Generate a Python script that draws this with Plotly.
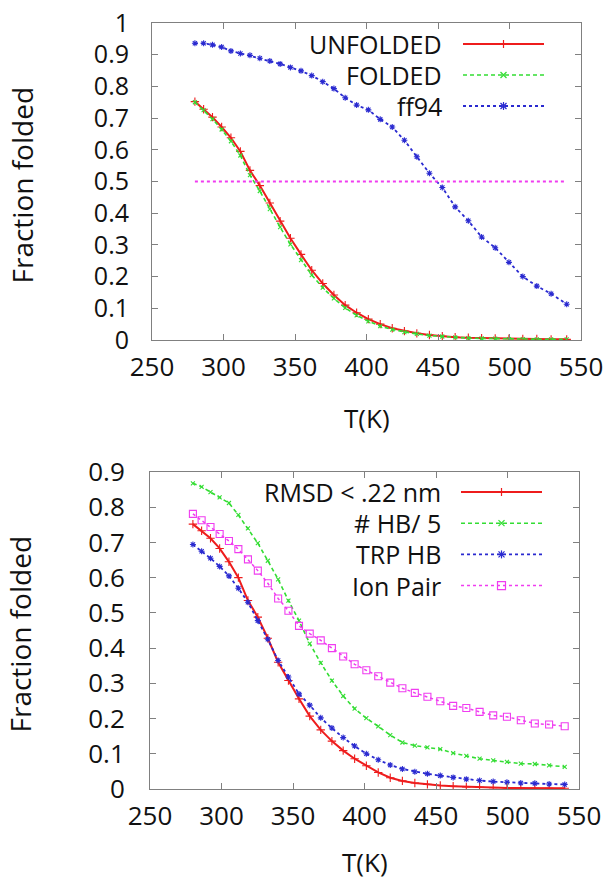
import plotly.graph_objects as go

# ---------------- data ----------------
T = [280.0, 286.1, 292.3, 298.7, 305.2, 311.8, 318.5, 325.4, 332.4, 339.6, 346.8,
     354.2, 361.7, 369.4, 377.2, 385.1, 393.1, 401.3, 409.6, 418.0, 426.5, 435.2,
     444.0, 453.0, 462.0, 471.2, 480.5, 490.0, 499.6, 509.3, 519.1, 529.1, 540.0]

# top panel
UNFOLDED = [0.752, 0.728, 0.703, 0.672, 0.638, 0.595, 0.535, 0.487, 0.432, 0.375, 0.321,
            0.270, 0.220, 0.178, 0.142, 0.110, 0.086, 0.066, 0.050, 0.037, 0.028, 0.021,
            0.016, 0.012, 0.009, 0.007, 0.006, 0.005, 0.004, 0.003, 0.003, 0.002, 0.002]
FOLDED = [0.750, 0.725, 0.697, 0.664, 0.627, 0.582, 0.520, 0.470, 0.413, 0.356, 0.302,
          0.252, 0.205, 0.165, 0.131, 0.101, 0.078, 0.059, 0.044, 0.033, 0.025, 0.019,
          0.014, 0.011, 0.008, 0.006, 0.005, 0.004, 0.003, 0.003, 0.002, 0.002, 0.002]
FF94 = [0.936, 0.936, 0.931, 0.924, 0.912, 0.904, 0.898, 0.889, 0.880, 0.871, 0.860,
        0.849, 0.834, 0.815, 0.793, 0.764, 0.741, 0.726, 0.696, 0.672, 0.630, 0.578,
        0.526, 0.481, 0.420, 0.376, 0.325, 0.291, 0.245, 0.200, 0.170, 0.146, 0.113]
THRESHOLD = 0.5

# bottom panel
RMSD = [0.752, 0.733, 0.712, 0.683, 0.645, 0.600, 0.535, 0.488, 0.428, 0.360, 0.308,
        0.256, 0.207, 0.168, 0.136, 0.109, 0.086, 0.066, 0.047, 0.032, 0.023, 0.017,
        0.013, 0.010, 0.008, 0.006, 0.005, 0.004, 0.003, 0.003, 0.002, 0.002, 0.002]
HB5 = [0.868, 0.858, 0.843, 0.828, 0.812, 0.778, 0.740, 0.698, 0.648, 0.595, 0.535,
       0.478, 0.413, 0.358, 0.308, 0.264, 0.228, 0.201, 0.178, 0.153, 0.132, 0.123,
       0.118, 0.113, 0.102, 0.094, 0.086, 0.081, 0.077, 0.072, 0.071, 0.067, 0.063]
TRP_HB = [0.694, 0.675, 0.655, 0.632, 0.605, 0.570, 0.530, 0.478, 0.425, 0.365, 0.318,
          0.270, 0.238, 0.202, 0.173, 0.146, 0.122, 0.100, 0.083, 0.068, 0.057, 0.049,
          0.043, 0.038, 0.033, 0.028, 0.024, 0.021, 0.019, 0.017, 0.016, 0.014, 0.013]
ION_PAIR = [0.781, 0.763, 0.744, 0.724, 0.704, 0.681, 0.652, 0.620, 0.584, 0.541, 0.506,
            0.463, 0.441, 0.422, 0.400, 0.376, 0.354, 0.337, 0.320, 0.302, 0.286, 0.273,
            0.262, 0.249, 0.236, 0.230, 0.219, 0.209, 0.205, 0.195, 0.186, 0.183, 0.178]

X_TICKS = [250, 300, 350, 400, 450, 500, 550]

# ---------------- styles ----------------
W, H = 610, 880
FONT = "Open Sans"
RED = "#ee1c1c"
GREEN = "#33dd33"
BLUE = "#2a2ad0"
MAGENTA = "#f03cf0"
GRAY = "#808080"
TXT = "#111111"

STY = {
    "red": dict(color=RED, dash="solid", width=2.0, symbol="cross-thin-open", size=6, mk="plus"),
    "green": dict(color=GREEN, dash="4px,3px", width=1.6, symbol="x-thin-open", size=4, mk="x"),
    "blue": dict(color=BLUE, dash="dot", width=1.8, symbol="asterisk-open", size=5, mk="star"),
    "mag": dict(color=MAGENTA, dash="dot", width=1.5, symbol="square-open", size=7, mk="square"),
}


def series(x, y, s, xa, ya):
    return go.Scatter(
        x=x, y=y, mode="lines+markers", xaxis=xa, yaxis=ya, showlegend=False,
        line=dict(color=s["color"], dash=s["dash"], width=s["width"]),
        marker=dict(symbol=s["symbol"], size=s["size"], color=s["color"],
                    line=dict(color=s["color"], width=1.1)),
    )


fig = go.Figure()
fig.add_trace(series(T, UNFOLDED, STY["red"], "x", "y"))
fig.add_trace(series(T, FOLDED, STY["green"], "x", "y"))
fig.add_trace(series(T, FF94, STY["blue"], "x", "y"))
fig.add_trace(go.Scatter(x=[T[0], T[-1]], y=[THRESHOLD, THRESHOLD], mode="lines",
                         xaxis="x", yaxis="y", showlegend=False,
                         line=dict(color=MAGENTA, dash="dot", width=1.8)))

fig.add_trace(series(T, RMSD, STY["red"], "x2", "y2"))
fig.add_trace(series(T, HB5, STY["green"], "x2", "y2"))
fig.add_trace(series(T, TRP_HB, STY["blue"], "x2", "y2"))
fig.add_trace(series(T, ION_PAIR, STY["mag"], "x2", "y2"))


def px(x, y):
    return x / W, 1 - y / H


# plot areas in pixels
TOP = dict(l=152, r=581, t=23, b=340)
BOT = dict(l=150, r=579, t=472, b=789)

axis_common = dict(
    showline=True, linecolor=GRAY, linewidth=1, mirror="ticks",
    ticks="inside", ticklen=6, tickcolor=GRAY, tickwidth=1,
    showgrid=False, zeroline=False, automargin=False,
)
TICKFONT = dict(family=FONT, size=26, color=TXT)
TICKFONT_TIGHT = dict(family=FONT, size=25, color=TXT)

fig.update_layout(
    template="none",
    width=W, height=H,
    margin=dict(l=0, r=0, t=0, b=0, pad=0, autoexpand=False),
    paper_bgcolor="white", plot_bgcolor="white",
    showlegend=False,
    xaxis=dict(domain=[TOP["l"] / W, TOP["r"] / W], range=[250, 550], tickfont=TICKFONT,
               tickvals=X_TICKS, anchor="y", ticklabelstandoff=4, **axis_common),
    yaxis=dict(domain=[1 - TOP["b"] / H, 1 - TOP["t"] / H], range=[0, 1], tickfont=TICKFONT_TIGHT,
               dtick=0.1, tick0=0, anchor="x", ticklabelstandoff=17, **axis_common),
    xaxis2=dict(domain=[BOT["l"] / W, BOT["r"] / W], range=[250, 550], tickfont=TICKFONT,
                tickvals=X_TICKS, anchor="y2", ticklabelstandoff=4, **axis_common),
    yaxis2=dict(domain=[1 - BOT["b"] / H, 1 - BOT["t"] / H], range=[0, 0.9], tickfont=TICKFONT,
                dtick=0.1, tick0=0, anchor="x2", ticklabelstandoff=19, **axis_common),
)

annotations = []
shapes = []

# axis titles
for panel, tx_y, ty_x in ((TOP, 418, 21), (BOT, 862, 19)):
    cx = (panel["l"] + panel["r"]) / 2
    x, y = px(cx, tx_y)
    annotations.append(dict(text="T(K)", x=x, y=y, xref="paper", yref="paper",
                            showarrow=False, xanchor="center", yanchor="middle",
                            font=dict(family=FONT, size=26, color=TXT)))
    cy = (panel["t"] + panel["b"]) / 2 + 4
    x, y = px(ty_x, cy)
    annotations.append(dict(text="Fraction folded", x=x, y=y, xref="paper", yref="paper",
                            showarrow=False, xanchor="center", yanchor="middle", textangle=-90,
                            font=dict(family=FONT, size=28, color=TXT)))


def line_shape(x0, y0, x1, y1, color, width=1.2, dash="solid"):
    a, b = px(x0, y0)
    c, d = px(x1, y1)
    shapes.append(dict(type="line", xref="paper", yref="paper", x0=a, y0=b, x1=c, y1=d,
                       line=dict(color=color, width=width, dash=dash)))


def marker_shape(kind, cx, cy, color):
    r = 4
    if kind in ("plus", "star"):
        line_shape(cx - r, cy, cx + r, cy, color)
        line_shape(cx, cy - r, cx, cy + r, color)
    if kind in ("x", "star"):
        q = 3
        line_shape(cx - q, cy - q, cx + q, cy + q, color)
        line_shape(cx - q, cy + q, cx + q, cy - q, color)
    if kind == "square":
        a, b = px(cx - r, cy - r)
        c, d = px(cx + r, cy + r)
        shapes.append(dict(type="rect", xref="paper", yref="paper", x0=a, y0=d, x1=c, y1=b,
                           line=dict(color=color, width=1.2)))


def legend(entries, text_right, line_x0, line_x1, y0, dy):
    for i, (label, s) in enumerate(entries):
        y = y0 + i * dy
        x, yy = px(text_right, y)
        annotations.append(dict(text=label, x=x, y=yy, xref="paper", yref="paper",
                                showarrow=False, xanchor="right", yanchor="middle",
                                borderpad=0,
                                font=dict(family=FONT, size=25, color=TXT)))
        line_shape(line_x0, y, line_x1, y, s["color"], width=s["width"], dash=s["dash"])
        marker_shape(s["mk"], (line_x0 + line_x1) / 2, y, s["color"])


legend([("UNFOLDED", STY["red"]), ("FOLDED", STY["green"]), ("ff94", STY["blue"])],
       443, 463, 544, 44, 31)
legend([("RMSD &lt; .22 nm", STY["red"]), ("# HB/ 5", STY["green"]),
        ("TRP HB", STY["blue"]), ("Ion Pair", STY["mag"])],
       442, 461, 542, 492, 31.2)

fig.update_layout(annotations=annotations, shapes=shapes)

fig.write_html("out.html", config={"displayModeBar": False},
               post_script="document.body.style.margin='0';")
